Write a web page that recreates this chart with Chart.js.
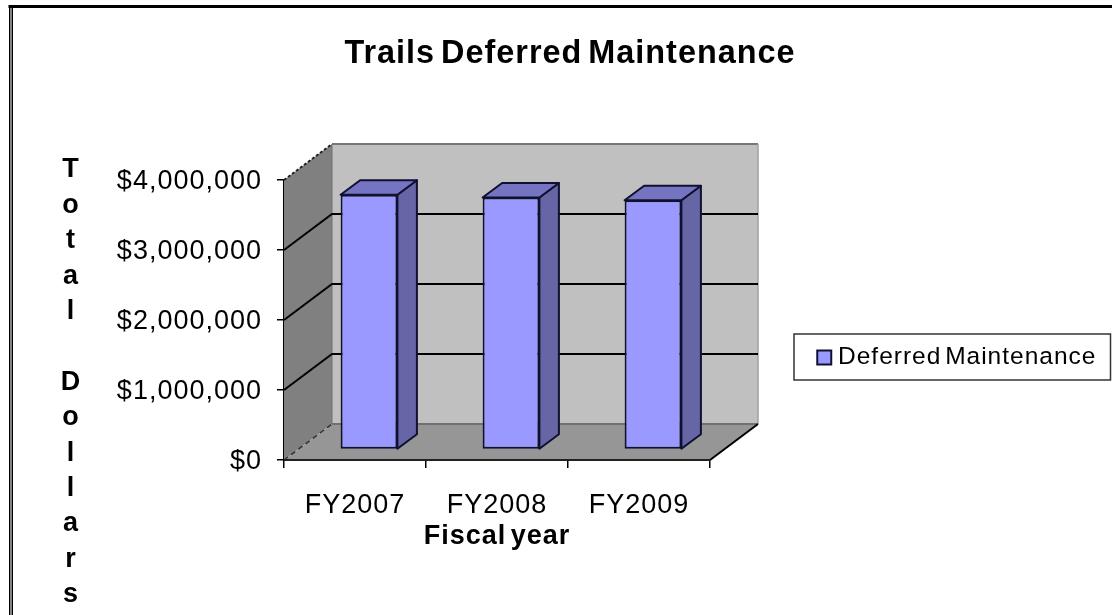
<!DOCTYPE html>
<html><head><meta charset="utf-8">
<style>html,body{margin:0;padding:0;background:#fff;overflow:hidden}canvas{display:block}</style>
<script src="https://cdn.jsdelivr.net/npm/chart.js@4"></script>
</head><body>
<canvas id="c" width="1112" height="615"></canvas>
<script>
const categories = ['FY2007','FY2008','FY2009'];
const deferredMaintenance = [3640000,3600000,3560000];
const yTickValues = [0,1000000,2000000,3000000,4000000];
const chartTitle = 'Trails Deferred Maintenance';
const seriesName = 'Deferred Maintenance';
const xTitle = 'Fiscal year';
const yTitleLines = ['T','o','t','a','l','','D','o','l','l','a','r','s'];

const FONT = '"Liberation Sans", Arial, sans-serif';
const WALL = {dx:48, dy:-36};      // depth of the 3D box
const BAR = {ox:14, oy:-10.5, dx:19.5, dy:-14.5};

function poly(ctx, pts, fill, stroke, lw, dash){
  ctx.save();
  ctx.beginPath();
  pts.forEach((p,i)=> i?ctx.lineTo(p[0],p[1]):ctx.moveTo(p[0],p[1]));
  ctx.closePath();
  if(fill){ctx.fillStyle=fill;ctx.fill();}
  if(stroke){ctx.strokeStyle=stroke;ctx.lineWidth=lw||1;ctx.lineJoin='round';ctx.setLineDash(dash||[]);ctx.stroke();}
  ctx.restore();
}
function line(ctx, pts, stroke, lw, dash){
  ctx.save();
  ctx.beginPath();
  pts.forEach((p,i)=> i?ctx.lineTo(p[0],p[1]):ctx.moveTo(p[0],p[1]));
  ctx.strokeStyle=stroke;ctx.lineWidth=lw||1;ctx.setLineDash(dash||[]);ctx.stroke();
  ctx.restore();
}

const box3d = {
  id:'box3d',
  beforeDraw(chart){
    const c=chart.ctx;
    c.letterSpacing='1px';
    c.wordSpacing='-4px';
    // picture frame
    c.save();
    c.fillStyle='#000';
    c.fillRect(8.5,5,1103.5,3);
    c.fillRect(9,5,1.5,610);
    c.fillRect(11.5,5,1.5,610);
    c.fillStyle='#888';
    c.fillRect(10.5,8,1,607);
    c.restore();
    // legend frame
    c.save();
    c.strokeStyle='#333';c.lineWidth=1.5;
    c.strokeRect(794,334,316.5,46);
    c.restore();
  },
  beforeDatasetsDraw(chart){
    const c=chart.ctx, a=chart.chartArea, y=chart.scales.y;
    const L=a.left,R=a.right,T=a.top,B=a.bottom,dx=WALL.dx,dy=WALL.dy;
    // back wall, side wall, floor
    poly(c,[[L+dx,T+dy],[R+dx,T+dy],[R+dx,B+dy],[L+dx,B+dy]],'#C0C0C0');
    poly(c,[[L,T],[L+dx,T+dy],[L+dx,B+dy],[L,B]],'#808080');
    poly(c,[[L,B],[R,B],[R+dx,B+dy],[L+dx,B+dy]],'#969696');
    line(c,[[L+dx,T+dy],[R+dx,T+dy]],'#777',2);
    line(c,[[R+dx,T+dy],[R+dx,B+dy]],'#a0a0a0',1.5);
    line(c,[[L+dx,B+dy],[R+dx,B+dy]],'#707070',2);
    line(c,[[L+dx,T+dy],[L+dx,B+dy]],'#707070',1);
    // gridlines from the axis ticks
    y.ticks.forEach(t=>{
      const py=y.getPixelForValue(t.value);
      if(t.value===y.min||t.value===y.max)return;
      line(c,[[L,py],[L+dx,py+dy],[R+dx,py+dy]],'#000',2);
    });
    line(c,[[L,T],[L+dx,T+dy]],'#222',2,[3,2]);
    line(c,[[L,B],[L+dx,B+dy]],'#333',1.5,[5,4]);
    line(c,[[R,B],[R+dx,B+dy]],'#000',2);
    line(c,[[L,B],[R,B]],'#222',2);
    // bar side and top faces
    const meta=chart.getDatasetMeta(0);
    c.save();
    c.translate(BAR.ox,BAR.oy);
    meta.data.forEach(b=>{
      const l=b.x-b.width/2,r=b.x+b.width/2,t=b.y,bt=b.base,e=BAR.dx,f=BAR.dy;
      poly(c,[[r,t],[r+e,t+f],[r+e,bt+f],[r,bt]],'#6666A6','#101030',2);
      poly(c,[[l,t],[l+e,t+f],[r+e,t+f],[r,t]],'#7474C2','#101030',2);
    });
    c.restore();
  },
  beforeDatasetDraw(chart){
    chart.ctx.save();
    chart.ctx.translate(BAR.ox,BAR.oy);
  },
  afterDatasetDraw(chart){
    chart.ctx.restore();
  },
  afterLayout(chart){
    // title is centred over the plot + legend block, legend sits right of the box
    chart.titleBlock.left=28;
    chart.titleBlock.right=1112;
    const l=chart.legend;
    l.left=812.75;l.right=1110;l.top=334.5;l.bottom=380.5;
  },
  afterDraw(chart){
    const c=chart.ctx;
    c.save();
    c.font='bold 27px '+FONT;
    c.textAlign='center';c.textBaseline='middle';c.fillStyle='#000';
    yTitleLines.forEach((ch,i)=>c.fillText(ch,71,170+i*35.4));
    c.restore();
  }
};

new Chart(document.getElementById('c'),{
  type:'bar',
  plugins:[box3d],
  data:{labels:categories,datasets:[{
    label:seriesName,data:deferredMaintenance,
    backgroundColor:'#9999FF',borderColor:'#101030',borderWidth:2,borderSkipped:false,
    barPercentage:0.4,categoryPercentage:1
  }]},
  options:{
    responsive:false,animation:false,
    layout:{padding:{top:0,left:0,right:402,bottom:0}},
    plugins:{
      tooltip:{enabled:false},
      title:{display:true,text:chartTitle,color:'#000',
        font:{family:FONT,size:32.4,weight:'bold'},padding:{top:34.5,bottom:106.6}},
      legend:{position:'chartArea',align:'center',
        labels:{color:'#000',usePointStyle:true,pointStyle:'rect',boxWidth:3,boxHeight:14,padding:10,font:{family:FONT,size:24.5}}}
    },
    scales:{
      x:{
        afterFit(s){s.height=155;},
        grid:{drawOnChartArea:false,drawTicks:true,tickLength:8,color:'#000',lineWidth:1.5},
        border:{display:false},
        ticks:{color:'#000',padding:21,maxRotation:0,font:{family:FONT,size:27}},
        title:{display:true,text:xTitle,color:'#000',padding:{top:0,bottom:62},font:{family:FONT,size:27,weight:'bold'}}
      },
      y:{
        min:0,max:4000000,
        afterFit(s){s.width=284;},
        afterBuildTicks(s){s.ticks=yTickValues.map(v=>({value:v}));},
        grid:{drawOnChartArea:false,drawTicks:true,tickLength:7,color:'#000',lineWidth:1.5},
        border:{display:true,color:'#000',width:2},
        ticks:{color:'#000',padding:15,labelOffset:2,font:{family:FONT,size:27},
          callback:v=>'$'+Number(v).toLocaleString('en-US')}
      }
    }
  }
});
</script>
</body></html>
